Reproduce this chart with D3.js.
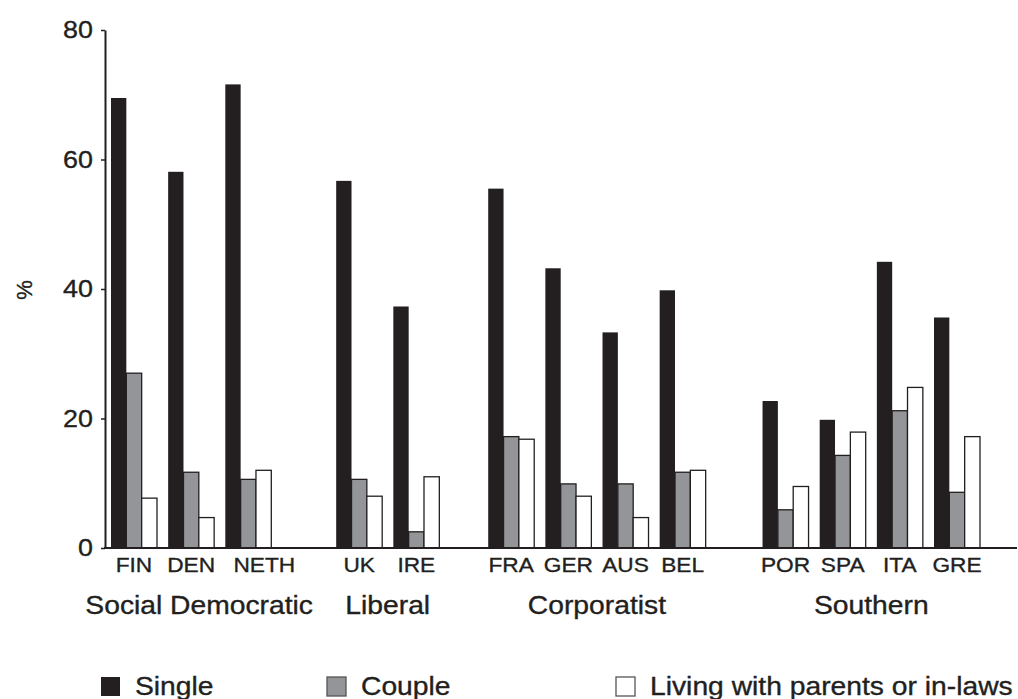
<!DOCTYPE html>
<html>
<head>
<meta charset="utf-8">
<script src="https://cdn.jsdelivr.net/npm/d3@7"></script>
<style>
    body { margin: 0; background: #fff; }
    text { font-family: "Liberation Sans", Arial, sans-serif; fill: #231f20; stroke: #231f20; stroke-width: 0.35px; }
</style>
</head>
<body>
<svg width="1018" height="699"></svg>
<script>
// Chart data.
var countries = ["FIN", "DEN", "NETH", "UK", "IRE", "FRA", "GER", "AUS", "BEL", "POR", "SPA", "ITA", "GRE"];
var regimes = ["Social Democratic", "Liberal", "Corporatist", "Southern"];
var regimeOf = [0, 0, 0, 1, 1, 2, 2, 2, 2, 3, 3, 3, 3];
var seriesNames = ["Single", "Couple", "Living with parents or in-laws"];
var single = [69.5, 58.1, 71.6, 56.7, 37.3, 55.5, 43.2, 33.3, 39.8, 22.7, 19.8, 44.2, 35.6];
var couple = [27.0, 11.7, 10.6, 10.6, 2.5, 17.2, 9.9, 9.9, 11.7, 5.9, 14.3, 21.2, 8.6];
var parents = [7.7, 4.7, 12.0, 8.0, 11.0, 16.8, 8.0, 4.7, 12.0, 9.5, 17.9, 24.8, 17.2];
var yTicks = [0, 20, 40, 60, 80];

var fills = ["#231f20", "#939598", "#ffffff"];
var ink = "#231f20";

var svg = d3.select("svg");

// Extra empty space (in slots) that comes before each regime group.
var regimeGaps = [0, 0.94, 0.66, 0.8];
var gapBefore = regimeGaps.map(function (g, i) {
    return d3.sum(regimeGaps.slice(0, i + 1));
});

function slotOf(i) {
    return i + gapBefore[regimeOf[i]];
}

// The original type is set wide; stretch the glyphs to match.
function widen(sel, k) {
    sel.each(function () {
        var w = this.getComputedTextLength();
        d3.select(this)
            .attr("textLength", w * k)
            .attr("lengthAdjust", "spacingAndGlyphs");
    });
}

var x = d3.scaleLinear()
    .domain([0, slotOf(countries.length - 1)])
    .range([111, 934]);

var inner = d3.scaleBand()
    .domain(seriesNames)
    .range([0, 46]);

var y = d3.scaleLinear()
    .domain([0, 80])
    .range([548, 30]);

// Bars.
var values = [single, couple, parents];
seriesNames.forEach(function (name, s) {
    svg.append("g")
        .selectAll("rect")
        .data(values[s])
        .join("rect")
        .attr("x", function (d, i) { return x(slotOf(i)) + inner(name); })
        .attr("y", function (d) { return y(d); })
        .attr("width", inner.bandwidth())
        .attr("height", function (d) { return y(0) - y(d); })
        .attr("fill", fills[s])
        .attr("stroke", s === 0 ? "none" : ink)
        .attr("stroke-width", 1.3);
});

// Y axis.
var yAxis = svg.append("g")
    .attr("transform", "translate(105,0)")
    .call(d3.axisLeft(y).tickValues(yTicks).tickSize(4).tickSizeOuter(0).tickPadding(8));
yAxis.select(".domain").attr("stroke", ink).attr("stroke-width", 2);
yAxis.selectAll(".tick line").attr("stroke", ink).attr("stroke-width", 1.5);
yAxis.selectAll(".tick text")
    .style("font-size", "24px")
    .attr("fill", ink)
    .call(widen, 1.12);

svg.append("text")
    .attr("transform", "translate(32,290) rotate(-90)")
    .attr("text-anchor", "middle")
    .style("font-size", "22px")
    .text("%");

// X axis baseline.
svg.append("line")
    .attr("x1", 104)
    .attr("x2", 1017)
    .attr("y1", y(0))
    .attr("y2", y(0))
    .attr("stroke", ink)
    .attr("stroke-width", 2);

// Country labels (NETH sits a little to the right in the original).
var labelNudge = { NETH: 16 };
svg.append("g")
    .selectAll("text")
    .data(countries)
    .join("text")
    .attr("x", function (d, i) { return x(slotOf(i)) + 23 + (labelNudge[d] || 0); })
    .attr("y", 572)
    .attr("text-anchor", "middle")
    .style("font-size", "21px")
    .text(function (d) { return d; })
    .call(widen, 1.08);

// Regime labels, centred under their groups.
var regimeNudge = [8, 0, 0, 0];
svg.append("g")
    .selectAll("text")
    .data(regimes)
    .join("text")
    .attr("x", function (d, r) {
        var idx = d3.range(countries.length).filter(function (i) { return regimeOf[i] === r; });
        return (x(slotOf(idx[0])) + x(slotOf(idx[idx.length - 1])) + 46) / 2 + regimeNudge[r];
    })
    .attr("y", 614)
    .attr("text-anchor", "middle")
    .style("font-size", "25px")
    .text(function (d) { return d; })
    .call(widen, 1.13);

// Legend.
var legendX = [101, 327, 616];
var legend = svg.append("g")
    .selectAll("g")
    .data(seriesNames)
    .join("g")
    .attr("transform", function (d, i) { return "translate(" + legendX[i] + ",677)"; });

legend.append("rect")
    .attr("width", 19)
    .attr("height", 19)
    .attr("fill", function (d, i) { return fills[i]; })
    .attr("stroke", function (d, i) { return i === 0 ? "none" : "#555"; })
    .attr("stroke-width", 1.3);

legend.append("text")
    .attr("x", 34)
    .attr("y", 18)
    .style("font-size", "25px")
    .text(function (d) { return d; })
    .call(widen, 1.13);
</script>
</body>
</html>
